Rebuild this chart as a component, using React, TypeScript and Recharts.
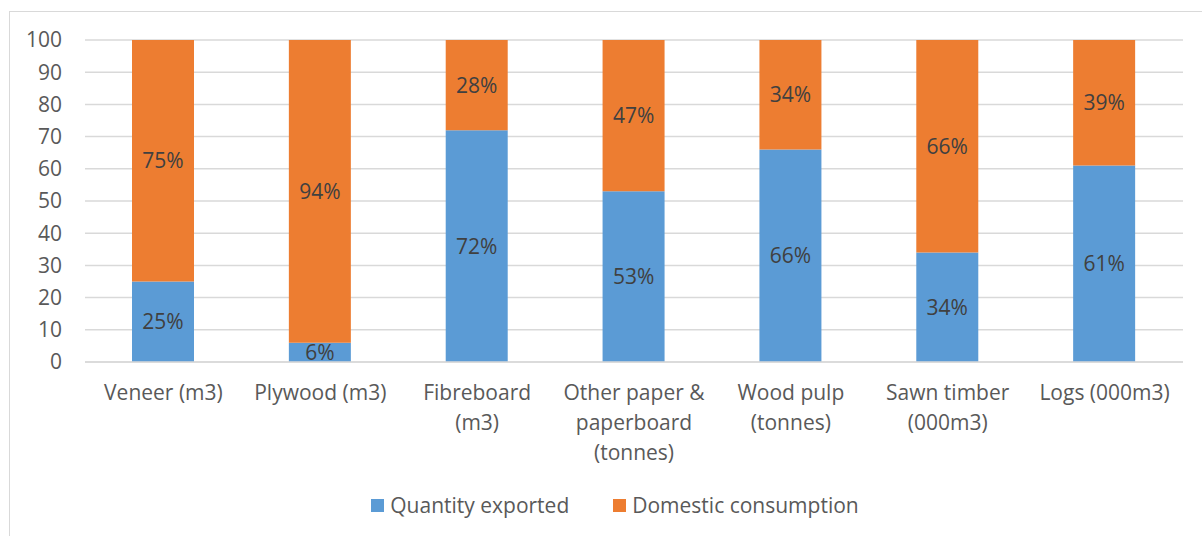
import React from 'react';
import { BarChart, Bar, XAxis, YAxis, CartesianGrid, LabelList, Legend } from 'recharts';

// category labels, line breaks as Excel wrapped them
const categories = [
  'Veneer (m3)',
  'Plywood (m3)',
  'Fibreboard\n(m3)',
  'Other paper &\npaperboard\n(tonnes)',
  'Wood pulp\n(tonnes)',
  'Sawn timber\n(000m3)',
  'Logs (000m3)',
];
const exported = [25, 6, 72, 53, 66, 34, 61];
const domestic = [75, 94, 28, 47, 34, 66, 39];
const yTicks = [0, 10, 20, 30, 40, 50, 60, 70, 80, 90, 100];

const seriesNames = ['Quantity exported', 'Domestic consumption'];
const seriesColors = ['#5B9BD5', '#ED7D31'];

const data = categories.map((name, i) => ({
  name,
  exported: exported[i],
  domestic: domestic[i],
}));

const FONT = '"Open Sans", sans-serif';
const FS = 21;

const CategoryTick = (props: any) => {
  const { x, y, payload } = props;
  const lines = String(payload.value).split('\n');
  return (
    <text x={x} y={y} textAnchor="middle" fill="#595959" fontSize={FS} fontFamily={FONT}>
      {lines.map((line, i) => (
        <tspan key={i} x={x} dy={30}>
          {line}
        </tspan>
      ))}
    </text>
  );
};

const LegendContent = () => (
  <div style={{ display: 'flex', justifyContent: 'center', gap: 44, fontFamily: FONT, fontSize: FS, color: '#595959', lineHeight: '24px' }}>
    {seriesNames.map((n, i) => (
      <div key={n} style={{ display: 'flex', alignItems: 'center' }}>
        <span style={{ display: 'inline-block', width: 13, height: 13, background: seriesColors[i], marginRight: 6 }} />
        <span>{n}</span>
      </div>
    ))}
  </div>
);

const App: React.FC = () => {
  return (
    <div style={{ position: 'absolute', left: 0, top: 0, width: 1202, height: 536, background: '#fff', overflow: 'hidden' }}>
      {/* chart frame */}
      <div style={{ position: 'absolute', left: 9, top: 11, width: 1200, height: 540, border: '1px solid #d9d9d9', boxSizing: 'border-box' }} />
      <BarChart
        width={1202}
        height={536}
        data={data}
        margin={{ top: 40, right: 19, bottom: 0, left: 0 }}
        style={{ position: 'absolute', left: 0, top: 0 }}
      >
        <CartesianGrid vertical={false} stroke="#d9d9d9" strokeWidth={1.5} />
        <XAxis
          dataKey="name"
          interval={0}
          height={150}
          axisLine={{ stroke: '#d9d9d9', strokeWidth: 1.5 }}
          tickLine={false}
          tick={<CategoryTick />}
        />
        <YAxis
          width={85}
          domain={[0, 100]}
          ticks={yTicks}
          interval={0}
          axisLine={false}
          tickLine={false}
          tickSize={0}
          tickMargin={23}
          tick={{ fill: '#595959', fontSize: FS, fontFamily: FONT }}
        />
        <Legend content={<LegendContent />} wrapperStyle={{ top: 493, left: 14, width: 1202 }} />
        <Bar dataKey="exported" name={seriesNames[0]} stackId="a" fill={seriesColors[0]} barSize={62} isAnimationActive={false}>
          <LabelList dataKey="exported" position="center" formatter={(v: any) => `${v}%`} fill="#404040" fontSize={FS} fontFamily={FONT} />
        </Bar>
        <Bar dataKey="domestic" name={seriesNames[1]} stackId="a" fill={seriesColors[1]} barSize={62} isAnimationActive={false}>
          <LabelList dataKey="domestic" position="center" formatter={(v: any) => `${v}%`} fill="#404040" fontSize={FS} fontFamily={FONT} />
        </Bar>
      </BarChart>
    </div>
  );
};

export default App;
